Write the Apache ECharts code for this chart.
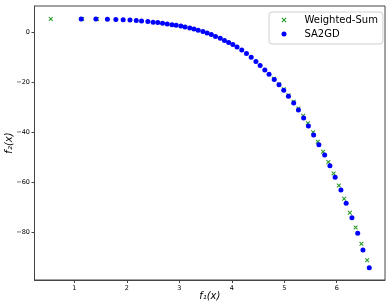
<!DOCTYPE html>
<html>
<head>
<meta charset="utf-8">
<script src="https://cdn.jsdelivr.net/npm/echarts@6/dist/echarts.min.js"></script>
<style>html,body{margin:0;padding:0;background:#fff}#c{width:392px;height:308px}</style>
</head>
<body>
<div id="c"></div>
<script>
const seriesNames = ['Weighted-Sum', 'SA2GD'];
const xTicks = [1, 2, 3, 4, 5, 6];
const yTicks = [0, -20, -40, -60, -80];

const wsX = [0.55, 1.15, 1.43, 4.80, 4.90, 4.99, 5.08, 5.18, 5.27, 5.36, 5.45, 5.55, 5.64, 5.74, 5.84, 5.94, 6.04, 6.14, 6.25, 6.36, 6.47, 6.58];
const wsY = [5.3, 5.3, 5.3, -18.6, -20.8, -22.8, -25.2, -27.8, -30.5, -33.4, -36.4, -40.0, -43.8, -47.8, -51.9, -56.5, -61.3, -66.6, -72.2, -78.1, -84.6, -91.2];

const sgX = [1.13, 1.41, 1.63, 1.79, 1.93, 2.06, 2.18, 2.28, 2.40, 2.50, 2.59, 2.68, 2.77, 2.86, 2.94, 3.03, 3.11, 3.20, 3.28, 3.36, 3.45, 3.53, 3.61, 3.69, 3.78, 3.86, 3.94, 4.02, 4.10, 4.19, 4.28, 4.37, 4.46, 4.54, 4.63, 4.71, 4.81, 4.90, 4.99, 5.08, 5.18, 5.27, 5.37, 5.46, 5.56, 5.66, 5.77, 5.87, 5.97, 6.08, 6.18, 6.29, 6.40, 6.50, 6.62];
const sgY = [5.3, 5.3, 5.2, 5.1, 5.0, 4.9, 4.7, 4.5, 4.3, 4.0, 3.9, 3.6, 3.3, 3.0, 2.8, 2.5, 2.1, 1.7, 1.3, 0.8, 0.3, -0.3, -0.9, -1.7, -2.4, -3.3, -4.1, -4.9, -5.9, -7.1, -8.5, -10.0, -11.7, -13.3, -15.1, -16.8, -18.9, -21.0, -23.2, -25.6, -28.3, -31.1, -34.3, -37.5, -41.1, -45.0, -49.1, -53.4, -58.0, -63.1, -68.4, -74.2, -80.4, -87.1, -94.2];

const FONT = 'DejaVu Sans';
const AX = '#444';
const crossPath = 'path://M0,1.5L1.5,0L5,3.5L8.5,0L10,1.5L6.5,5L10,8.5L8.5,10L5,6.5L1.5,10L0,8.5L3.5,5Z';
const minus = v => String(v).replace('-', '\u2212');

const chart = echarts.init(document.getElementById('c'), null, {renderer: 'canvas'});
chart.setOption({
  animation: false,
  backgroundColor: '#fff',
  grid: {left: 34.5, right: 7, top: 6, bottom: 28, show: true, borderColor: AX, borderWidth: 1, outerBoundsMode: 'none', containLabel: false},
  legend: {
    left: 269, top: 12, orient: 'vertical',
    data: seriesNames,
    itemWidth: 31, itemHeight: 5, itemGap: 2,
    padding: [2, 5, 4, 12.5],
    backgroundColor: 'rgba(255,255,255,0.8)', borderColor: '#d0d0d0', borderWidth: 1, borderRadius: 3,
    textStyle: {fontFamily: FONT, fontSize: 10, color: '#000', lineHeight: 12}
  },
  xAxis: {
    type: 'value', min: 0.24, max: 6.92,
    name: 'f\u2081(x)', nameLocation: 'middle', nameGap: 11, nameMoveOverlap: false,
    nameTextStyle: {fontFamily: FONT, fontStyle: 'italic', fontSize: 10, color: '#000'},
    axisLine: {onZero: false, lineStyle: {color: AX, width: 1}},
    axisTick: {show: true, length: 3, lineStyle: {color: AX}, customValues: xTicks},
    axisLabel: {fontFamily: FONT, fontSize: 6.5, color: '#000', margin: 5, customValues: xTicks},
    splitLine: {show: false}
  },
  yAxis: {
    type: 'value', min: -99.1, max: 10.5,
    name: 'f\u2082(x)', nameLocation: 'middle', nameGap: 20, nameRotate: 90, nameMoveOverlap: false,
    nameTextStyle: {fontFamily: FONT, fontStyle: 'italic', fontSize: 10, color: '#000'},
    axisLine: {onZero: false, lineStyle: {color: AX, width: 1}},
    axisTick: {show: true, length: 3, lineStyle: {color: AX}, customValues: yTicks},
    axisLabel: {fontFamily: FONT, fontSize: 6.5, color: '#000', margin: 4.5, customValues: yTicks, formatter: minus},
    splitLine: {show: false}
  },
  series: [
    {
      name: seriesNames[0], type: 'scatter', symbol: crossPath, symbolSize: 4.5,
      itemStyle: {color: '#229922', opacity: 1},
      data: wsX.map((x, i) => [x, wsY[i]])
    },
    {
      name: seriesNames[1], type: 'scatter', symbol: 'circle', symbolSize: 5,
      itemStyle: {color: '#0000ff', opacity: 1},
      data: sgX.map((x, i) => [x, sgY[i]])
    }
  ]
});
</script>
</body>
</html>
